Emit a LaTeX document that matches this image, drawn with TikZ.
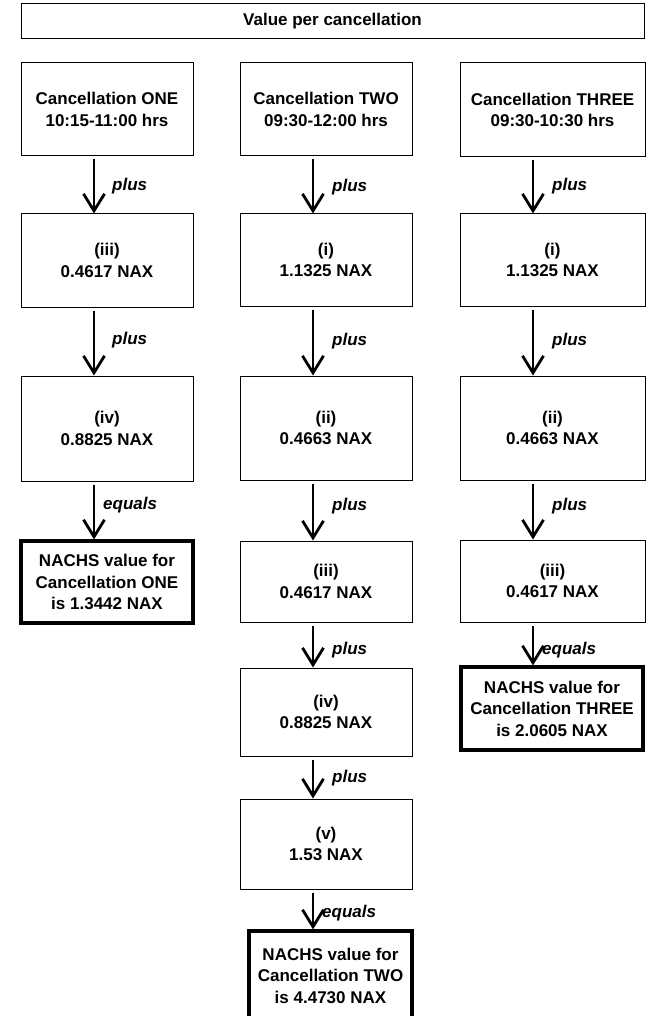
\documentclass[tikz,border=0pt]{standalone}
\usepackage{fontspec}
\setmainfont{Liberation Sans}
\usetikzlibrary{arrows.meta}
\begin{document}
\begin{tikzpicture}[x=1pt,y=-1pt,
  box/.style={draw=black, line width=1pt, rectangle, align=center, inner sep=0pt,
    font=\fontsize{17}{21.5}\selectfont\bfseries},
  resbox/.style={box, line width=3.2pt},
  colA/.style={minimum width=172pt},
  colB/.style={minimum width=172pt},
  colC/.style={minimum width=185pt},
  arr/.style={line width=2.8pt, -{Straight Barb[length=17pt,width=21pt]}, shorten <=3pt},
  lbl/.style={anchor=west, inner sep=0pt, font=\fontsize{17}{20}\selectfont\bfseries\itshape}]
\useasboundingbox (0,0) rectangle (663,1016);

% title
\node[box, minimum width=623pt, minimum height=35pt] (title) at (332.5,21.5) {Value per cancellation};

% column 1
\node[box, colA, minimum height=93pt] (a1) at (107,109.5) {Cancellation ONE\\10:15-11:00 hrs};
\node[box, colA, minimum height=93pt] (a2) at (107,260.5) {(iii)\\0.4617 NAX};
\node[box, colA, minimum height=105pt] (a3) at (107,428.5) {(iv)\\0.8825 NAX};
\node[resbox, colA, minimum height=82pt] (a4) at (107,582) {NACHS value for\\Cancellation ONE\\is 1.3442 NAX};

% column 2
\node[box, colB, minimum height=93pt] (b1) at (326,109.5) {Cancellation TWO\\09:30-12:00 hrs};
\node[box, colB, minimum height=92pt] (b2) at (326,260) {(i)\\1.1325 NAX};
\node[box, colB, minimum height=104pt] (b3) at (326,428) {(ii)\\0.4663 NAX};
\node[box, colB, minimum height=81pt] (b4) at (326,581.5) {(iii)\\0.4617 NAX};
\node[box, colB, minimum height=88pt] (b5) at (326,712) {(iv)\\0.8825 NAX};
\node[box, colB, minimum height=90pt] (b6) at (326,844) {(v)\\1.53 NAX};
\node[resbox, minimum width=163pt, minimum height=89pt] (b7) at (330.5,975.5) {NACHS value for\\Cancellation TWO\\is 4.4730 NAX};

% column 3
\node[box, colC, minimum height=94pt] (c1) at (552.5,110) {Cancellation THREE\\09:30-10:30 hrs};
\node[box, colC, minimum height=92pt] (c2) at (552.5,260) {(i)\\1.1325 NAX};
\node[box, colC, minimum height=104pt] (c3) at (552.5,428) {(ii)\\0.4663 NAX};
\node[box, colC, minimum height=82pt] (c4) at (552.5,581) {(iii)\\0.4617 NAX};
\node[resbox, minimum width=182pt, minimum height=83pt] (c5) at (552,708.5) {NACHS value for\\Cancellation THREE\\is 2.0605 NAX};

% arrow columns
\coordinate (xa) at (94,0);
\coordinate (xb) at (313,0);
\coordinate (xc) at (533,0);

\draw[arr] (a1.south -| xa) -- (a2.north -| xa);
\draw[arr] (a2.south -| xa) -- (a3.north -| xa);
\draw[arr] (a3.south -| xa) -- (a4.north -| xa);

\draw[arr] (b1.south -| xb) -- (b2.north -| xb);
\draw[arr] (b2.south -| xb) -- (b3.north -| xb);
\draw[arr] (b3.south -| xb) -- (b4.north -| xb);
\draw[arr] (b4.south -| xb) -- (b5.north -| xb);
\draw[arr] (b5.south -| xb) -- (b6.north -| xb);
\draw[arr] (b6.south -| xb) -- (b7.north -| xb);

\draw[arr] (c1.south -| xc) -- (c2.north -| xc);
\draw[arr] (c2.south -| xc) -- (c3.north -| xc);
\draw[arr] (c3.south -| xc) -- (c4.north -| xc);
\draw[arr] (c4.south -| xc) -- (c5.north -| xc);

% labels
\node[lbl] (la1) at (112,186) {plus};
\node[lbl] (la2) at (112,340) {plus};
\node[lbl] (la3) at (103,505) {equals};

\node[lbl] (lb1) at (332,187) {plus};
\node[lbl] (lb2) at (332,341) {plus};
\node[lbl] (lb3) at (332,506) {plus};
\node[lbl] (lb4) at (332,650) {plus};
\node[lbl] (lb5) at (332,778) {plus};
\node[lbl] (lb6) at (322,913) {equals};

\node[lbl] (lc1) at (552,186) {plus};
\node[lbl] (lc2) at (552,341) {plus};
\node[lbl] (lc3) at (552,506) {plus};
\node[lbl] (lc4) at (542,650) {equals};
\end{tikzpicture}
\end{document}
